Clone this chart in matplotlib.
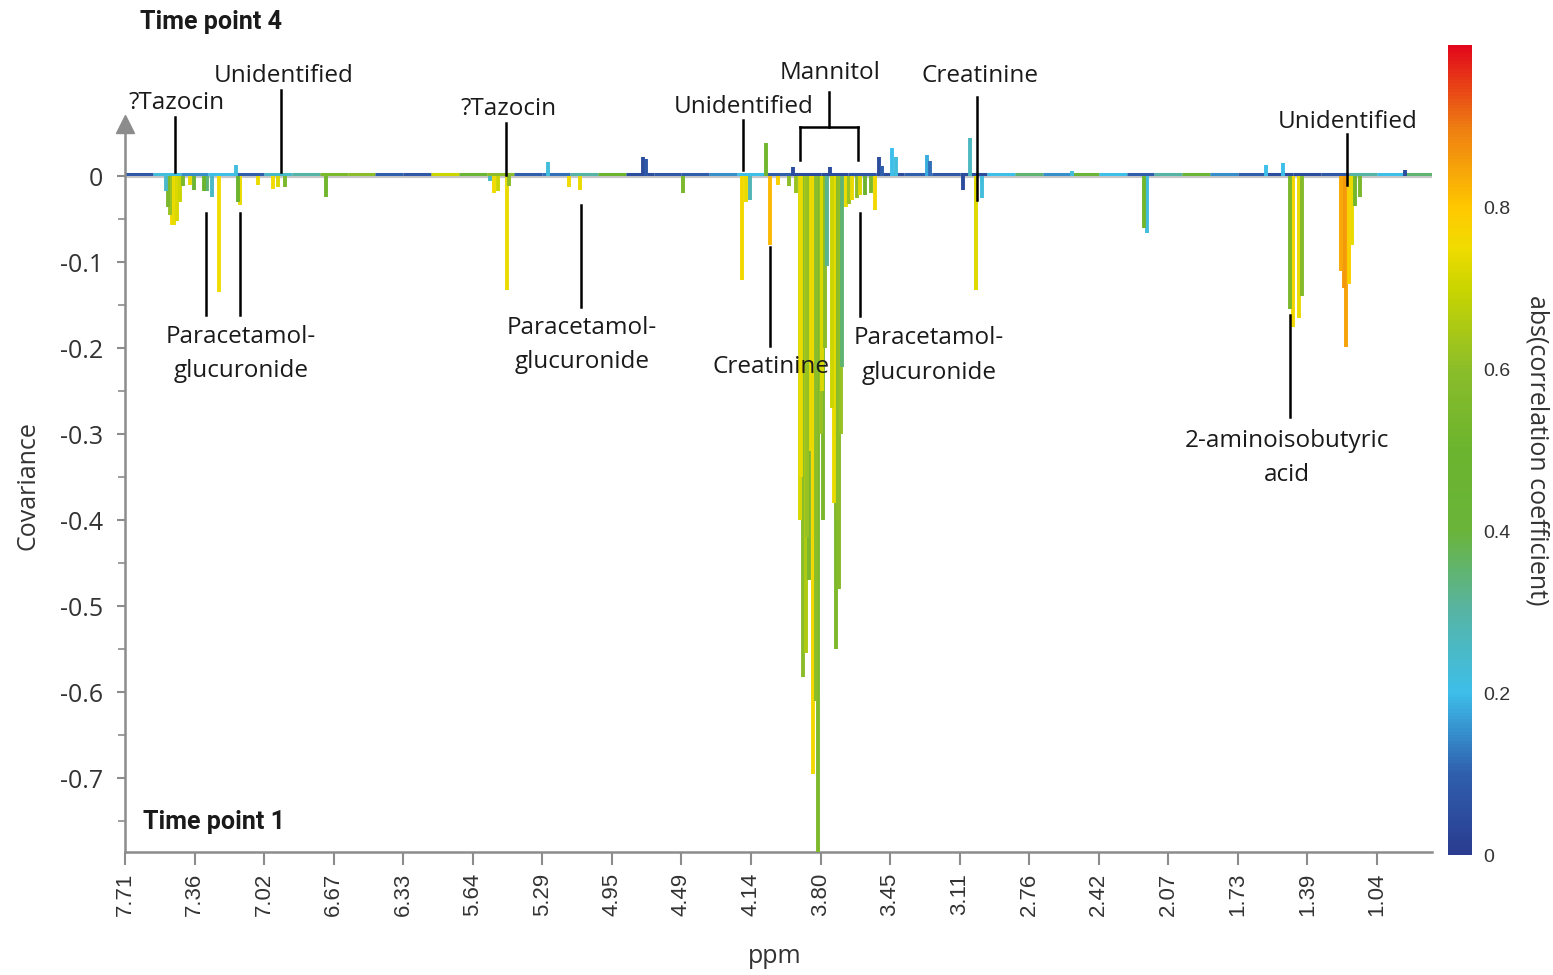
import numpy as np
import matplotlib
matplotlib.use("Agg")
from matplotlib import pyplot as plt
from matplotlib.collections import LineCollection
from matplotlib.colors import LinearSegmentedColormap, Normalize
from matplotlib.cm import ScalarMappable

# ppm tick labels (axis is evenly spaced in position, labels are not linear)
ppm_labels = ["7.71", "7.36", "7.02", "6.67", "6.33", "5.64", "5.29", "4.95", "4.49",
              "4.14", "3.80", "3.45", "3.11", "2.76", "2.42", "2.07", "1.73", "1.39", "1.04"]

# peaks: position on the ppm axis (tick units), covariance, abs(correlation)
peak_pos = [0.59, 0.62, 0.65, 0.68, 0.71, 0.75, 0.79, 0.84, 0.94, 0.99, 1.13, 1.18, 1.25, 1.35,
            1.60, 1.62, 1.66, 1.91, 2.13, 2.20, 2.30, 2.89,
            5.25, 5.30, 5.36, 5.49, 5.52, 6.08, 6.38, 6.54, 7.45, 7.49, 8.02,
            8.87, 8.93, 8.98, 9.22, 9.27, 9.39, 9.61,
            9.55, 9.65, 9.70, 9.72, 9.75, 9.79, 9.81, 9.84, 9.86, 9.89, 9.93, 9.96, 10.00, 10.02,
            10.04, 10.06, 10.09, 10.14,
            10.17, 10.19, 10.22, 10.25, 10.27, 10.29, 10.31, 10.36, 10.41, 10.46, 10.52, 10.57,
            10.64, 10.72, 10.78, 10.84, 10.88,
            11.03, 11.08, 11.53, 11.58, 12.05, 12.15, 12.24, 12.32, 13.62, 14.65, 14.70,
            16.41, 16.65, 16.75, 16.79, 16.88, 16.92,
            17.48, 17.52, 17.56, 17.60, 17.64, 17.69, 17.76, 18.40]
peak_cov = [-0.018, -0.036, -0.045, -0.057, -0.057, -0.052, -0.030, -0.012, -0.010, -0.016,
            -0.018, -0.018, -0.024, -0.135,
            0.013, -0.030, -0.034, -0.010, -0.015, -0.013, -0.013, -0.024,
            -0.006, -0.020, -0.018, -0.133, -0.012, 0.016, -0.013, -0.016, 0.022, 0.020, -0.020,
            -0.121, -0.030, -0.028, 0.038, -0.080, -0.010, 0.010,
            -0.012, -0.020, -0.400, -0.350, -0.583, -0.555, -0.420, -0.470, -0.320, -0.695,
            -0.610, -0.786, -0.300, -0.250,
            -0.400, -0.200, -0.105, 0.011,
            -0.270, -0.380, -0.550, -0.400, -0.480, -0.300, -0.222, -0.036, -0.032, -0.028,
            -0.025, -0.022,
            -0.022, -0.020, -0.040, 0.022, 0.012,
            0.033, 0.022, 0.024, 0.017, -0.016, 0.044, -0.133, -0.025, 0.006, -0.060, -0.066,
            0.013, 0.015, -0.155, -0.176, -0.165, -0.140,
            -0.110, -0.130, -0.199, -0.125, -0.080, -0.035, -0.024, 0.007]
peak_r = [0.25, 0.55, 0.62, 0.75, 0.74, 0.72, 0.70, 0.55, 0.74, 0.45, 0.50, 0.35, 0.25, 0.75,
          0.22, 0.50, 0.74, 0.74, 0.75, 0.72, 0.55, 0.52,
          0.25, 0.75, 0.70, 0.74, 0.60, 0.22, 0.75, 0.74, 0.05, 0.08, 0.55,
          0.76, 0.74, 0.28, 0.52, 0.82, 0.78, 0.05,
          0.60, 0.62, 0.72, 0.74, 0.60, 0.66, 0.62, 0.55, 0.74, 0.76, 0.60, 0.56, 0.62, 0.72,
          0.55, 0.60, 0.32, 0.05,
          0.70, 0.74, 0.56, 0.60, 0.58, 0.62, 0.35, 0.74, 0.62, 0.74, 0.60, 0.72,
          0.50, 0.55, 0.76, 0.05, 0.10,
          0.20, 0.22, 0.18, 0.12, 0.05, 0.26, 0.73, 0.22, 0.22, 0.52, 0.22,
          0.20, 0.20, 0.55, 0.76, 0.74, 0.58,
          0.84, 0.86, 0.85, 0.78, 0.74, 0.52, 0.55, 0.05]

# baseline colour (abs correlation) in consecutive 0.4-wide chunks of the axis
base_r = [0.08, 0.22, 0.15, 0.20, 0.10, 0.25, 0.30, 0.55, 0.60, 0.10, 0.08, 0.70, 0.45, 0.60,
          0.10, 0.12, 0.30, 0.50, 0.05, 0.08, 0.10, 0.15, 0.20, 0.10, 0.05, 0.05, 0.08, 0.05,
          0.10, 0.08, 0.05, 0.20, 0.35, 0.15, 0.40, 0.20, 0.10, 0.30, 0.45, 0.15, 0.10, 0.05,
          0.05, 0.08, 0.30, 0.20, 0.35]

cmap = LinearSegmentedColormap.from_list("corr", [
    (0.0, "#2a3c8f"), (0.1, "#2f5fae"), (0.2, "#3dbfea"), (0.3, "#57b4a5"),
    (0.4, "#6ab43a"), (0.5, "#6bb42e"), (0.6, "#8bbd2a"), (0.7, "#c9d500"),
    (0.75, "#f0dc00"), (0.8, "#ffc800"), (0.9, "#ee7d12"), (1.0, "#e2071b")])
norm = Normalize(0, 1)

fig = plt.figure(figsize=(15.53, 9.75), dpi=100)
ax = fig.add_axes([125 / 1553, 1 - 852 / 975, 1307 / 1553, 728 / 975])
xmax = 1307 / 69.55
ymin, ymax = (176 - 852) / 860, (176 - 124) / 860
ax.set_xlim(0, xmax)
ax.set_ylim(ymin, ymax)

# zero line
ax.plot([0, xmax], [0, 0], color="#c8c8c8", lw=3, zorder=1)

# baseline
edges = np.arange(len(base_r) + 1) * 0.4
edges[-1] = xmax
segs = [[(edges[i], 0.002), (edges[i + 1], 0.002)] for i in range(len(base_r))]
ax.add_collection(LineCollection(segs, colors=cmap(norm(base_r)), linewidths=2.2, zorder=2))

# peaks
order = np.argsort(np.abs(peak_cov))[::-1]
psegs = [[(peak_pos[i], 0), (peak_pos[i], peak_cov[i])] for i in order]
pcols = [cmap(norm(peak_r[i])) for i in order]
ax.add_collection(LineCollection(psegs, colors=pcols, linewidths=2.8, zorder=3, capstyle="butt"))

# axes styling
grey = "#8c8c8c"
for s in ["top", "right"]:
    ax.spines[s].set_visible(False)
for s in ["left", "bottom"]:
    ax.spines[s].set_color(grey)
    ax.spines[s].set_linewidth(1.8)
ax.plot(0, 1, marker="^", transform=ax.transAxes, clip_on=False, ms=13, color=grey, zorder=5)

ax.set_xticks(np.arange(len(ppm_labels)))
ax.set_xticklabels(ppm_labels, rotation=90, fontsize=16, family="Liberation Sans", color="#333333")
ax.set_yticks(np.arange(0, -0.75, -0.1))
ax.set_yticklabels(["0"] + ["%.1f" % v for v in np.arange(-0.1, -0.75, -0.1)],
                   fontsize=18, family="Open Sans", color="#333333")
ax.set_yticks(np.arange(-0.05, -0.8, -0.1), minor=True)
ax.tick_params(axis="x", length=9, width=1.5, color=grey, pad=6)
ax.tick_params(axis="y", which="major", length=6, width=1.5, color=grey, pad=10)
ax.tick_params(axis="y", which="minor", length=5, width=1.2, color=grey)

ax.set_ylabel("Covariance", fontsize=18, family="Open Sans", color="#333333", va="center")
ax.yaxis.set_label_coords(-0.074, 0.504)
ax.set_xlabel("ppm", fontsize=18, family="Open Sans", color="#333333", va="center")
ax.xaxis.set_label_coords(0.497, -0.144)

# annotations
tk = dict(fontsize=17.5, family="Open Sans", color="#1a1a1a", ha="center", va="center",
          clip_on=False, linespacing=1.6)
lk = dict(color="black", lw=1.8, clip_on=False, zorder=6)

labels = [
    ("?Tazocin", 0.748, 0.0849, [(0.719, 0.0686, 0.719, 0.0047)]),
    ("Unidentified", 2.286, 0.1163, [(2.243, 0.100, 2.243, 0.005)]),
    ("Paracetamol-\nglucuronide", 1.668, -0.207,
     [(1.165, -0.043, 1.165, -0.162), (1.653, -0.043, 1.653, -0.162)]),
    ("?Tazocin", 5.521, 0.0779, [(5.478, 0.0616, 5.478, 0.001)]),
    ("Paracetamol-\nglucuronide", 6.571, -0.1965, [(6.557, -0.034, 6.557, -0.152)]),
    ("Unidentified", 8.900, 0.0802, [(8.886, 0.065, 8.886, 0.007)]),
    ("Creatinine", 9.288, -0.222, [(9.274, -0.083, 9.274, -0.198)]),
    ("Mannitol", 10.137, 0.1198,
     [(10.122, 0.0977, 10.122, 0.057), (9.705, 0.057, 10.539, 0.057),
      (9.705, 0.057, 9.705, 0.0186), (10.539, 0.057, 10.539, 0.0186)]),
    ("Creatinine", 12.293, 0.1163, [(12.250, 0.0919, 12.250, -0.028)]),
    ("Paracetamol-\nglucuronide", 11.560, -0.209, [(10.568, -0.043, 10.568, -0.163)]),
    ("Unidentified", 17.584, 0.0628, [(17.570, 0.0488, 17.570, -0.0105)]),
    ("2-aminoisobutyric\nacid", 16.707, -0.328, [(16.751, -0.162, 16.751, -0.280)]),
]
for txt, tx, ty, lines in labels:
    ax.text(tx, ty, txt, **tk)
    for x0, y0, x1, y1 in lines:
        ax.plot([x0, x1], [y0, y1], **lk)

ax.text(0.216, 0.179, "Time point 4", fontsize=18, family="Roboto", weight="bold",
        color="#1a1a1a", va="center", clip_on=False)
ax.text(0.259, -0.751, "Time point 1", fontsize=18, family="Roboto", weight="bold",
        color="#1a1a1a", va="center", clip_on=False)

# colourbar
cax = fig.add_axes([1448 / 1553, 1 - 855 / 975, 24 / 1553, 810 / 975])
cb = fig.colorbar(ScalarMappable(norm=norm, cmap=cmap), cax=cax)
cb.outline.set_visible(False)
cb.set_ticks([0, 0.2, 0.4, 0.6, 0.8])
cb.set_ticklabels(["0", "0.2", "0.4", "0.6", "0.8"])
cax.tick_params(length=0, labelsize=14, pad=8, labelcolor="#333333")
for t in cax.get_yticklabels():
    t.set_family("Liberation Sans")
cb.set_label("abs(correlation coefficient)", rotation=270, fontsize=18, family="Open Sans",
             color="#333333", labelpad=28)

fig.savefig("out.png", dpi=100)
